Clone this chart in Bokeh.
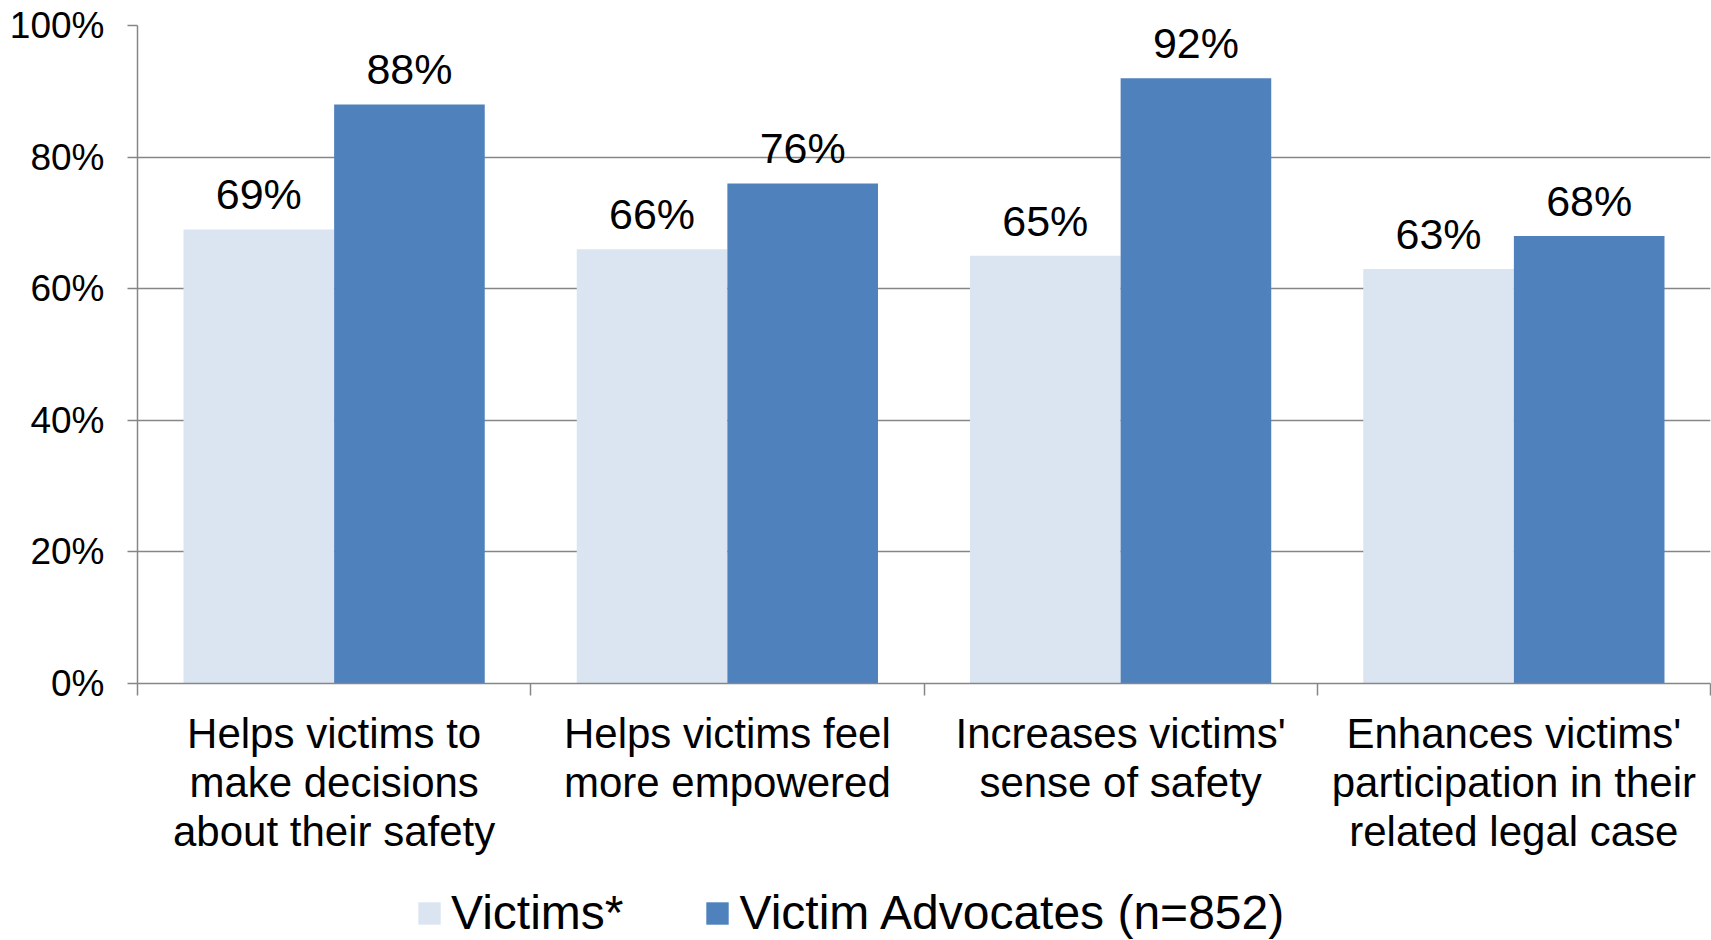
from bokeh.plotting import figure
from bokeh.layouts import column
from bokeh.models import Range1d, FixedTicker, Legend, LegendItem, ColumnDataSource
from bokeh.core.properties import value
from bokeh.embed import file_html
from bokeh.resources import INLINE

categories = ["Helps victims to\nmake decisions\nabout their safety",
              "Helps victims feel\nmore empowered",
              "Increases victims'\nsense of safety",
              "Enhances victims'\nparticipation in their\nrelated legal case"]
series_names = ["Victims*", "Victim Advocates (n=852)"]
victims = [69, 66, 65, 63]
advocates = [88, 76, 92, 68]
y_ticks = [0, 20, 40, 60, 80, 100]
y_tick_labels = ["0%", "20%", "40%", "60%", "80%", "100%"]

FONT = "Liberation Sans"
GRAY = "#868686"
C_VIC = "#DBE5F1"
C_ADV = "#4F81BD"
BW = 0.383

p = figure(width=1711, height=870, output_backend="svg", toolbar_location=None,
           x_range=Range1d(0, 4), y_range=Range1d(0, 100),
           min_border_left=137, min_border_right=1, min_border_top=25, min_border_bottom=187)
p.outline_line_color = None
p.background_fill_color = "white"
p.border_fill_color = "white"

n = len(categories)
centers = [i + 0.5 for i in range(n)]
src_v = ColumnDataSource(dict(x=[c - BW / 2 for c in centers], top=victims,
                              lab=[f"{v}%" for v in victims]))
src_a = ColumnDataSource(dict(x=[c + BW / 2 for c in centers], top=advocates,
                              lab=[f"{v}%" for v in advocates]))

rv = p.vbar(x="x", top="top", bottom=0, width=BW, source=src_v, fill_color=C_VIC, line_color=None)
ra = p.vbar(x="x", top="top", bottom=0, width=BW, source=src_a, fill_color=C_ADV, line_color=None)

for src in (src_v, src_a):
    p.text(x="x", y="top", text="lab", source=src, text_align="center",
           text_baseline="alphabetic", y_offset=-35,
           text_font=value(FONT), text_font_size="43px", text_color="black")

# grid
p.xgrid.grid_line_color = None
p.ygrid.ticker = FixedTicker(ticks=y_ticks)
p.ygrid.grid_line_color = GRAY
p.ygrid.grid_line_width = 1.5

# y axis
ya = p.yaxis[0]
ya.ticker = FixedTicker(ticks=y_ticks)
ya.major_label_overrides = {t: l for t, l in zip(y_ticks, y_tick_labels)}
ya.axis_line_color = GRAY
ya.axis_line_width = 1.5
ya.major_tick_line_color = GRAY
ya.major_tick_line_width = 1.5
ya.major_tick_in = 0
ya.major_tick_out = 10
ya.minor_tick_line_color = None
ya.major_label_standoff = 23
ya.major_label_text_font = FONT
ya.major_label_text_font_size = "37px"
ya.major_label_text_color = "black"

# x axis
xa = p.xaxis[0]
xa.ticker = FixedTicker(ticks=centers, minor_ticks=list(range(n + 1)))
xa.major_label_overrides = {c: l for c, l in zip(centers, categories)}
xa.axis_line_color = GRAY
xa.axis_line_width = 1.5
xa.major_tick_line_color = None
xa.minor_tick_line_color = GRAY
xa.minor_tick_line_width = 1.5
xa.minor_tick_in = 0
xa.minor_tick_out = 12
xa.major_tick_in = 0
xa.major_tick_out = 12
xa.major_label_standoff = 14
xa.major_label_text_font = FONT
xa.major_label_text_font_size = "42px"
xa.major_label_text_line_height = 1.05
xa.major_label_text_color = "black"
xa.major_label_orientation = "horizontal"

# legend figure below the chart
lf = figure(width=1711, height=70, output_backend="svg", toolbar_location=None,
            x_range=Range1d(0, 1), y_range=Range1d(0, 1),
            min_border=0, min_border_left=0, min_border_right=0,
            min_border_top=0, min_border_bottom=0)
lf.axis.visible = False
lf.grid.visible = False
lf.outline_line_color = None
lv = lf.vbar(x=[-10], top=[0], width=0.1, fill_color=C_VIC, line_color=None)
la = lf.vbar(x=[-10], top=[0], width=0.1, fill_color=C_ADV, line_color=None)
legend = Legend(items=[LegendItem(label=series_names[0], renderers=[lv]),
                       LegendItem(label=series_names[1], renderers=[la])],
                orientation="horizontal", location=(278, 0),
                glyph_width=28, glyph_height=28, label_standoff=8, spacing=80,
                padding=0, margin=0, border_line_color=None, background_fill_alpha=0,
                label_text_font=FONT, label_text_font_size="48px", label_text_color="black")
lf.add_layout(legend, "center")

layout = column(p, lf, spacing=0)
open("out.html", "w").write(file_html(layout, INLINE))
